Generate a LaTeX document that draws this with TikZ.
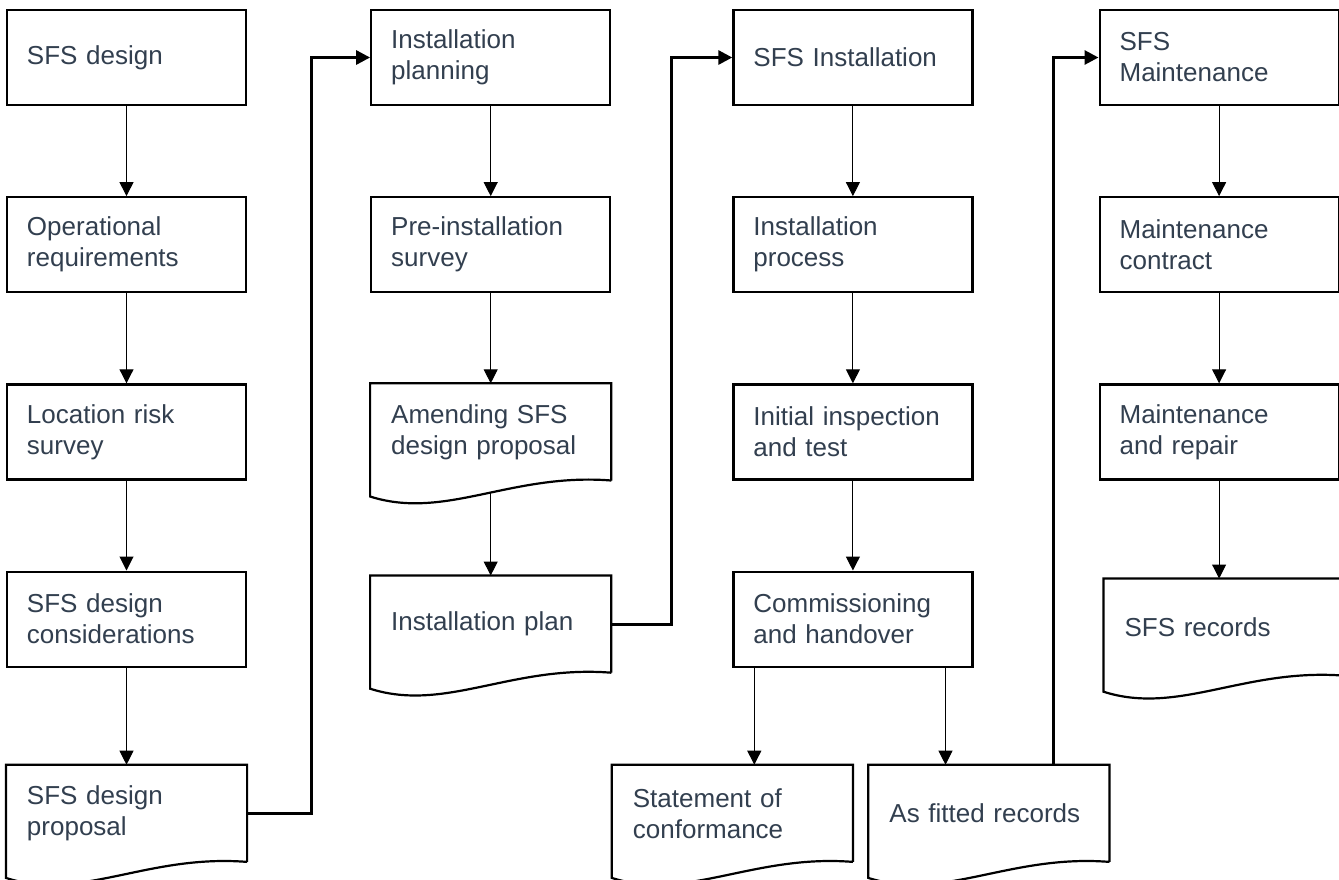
\documentclass[tikz,border=0pt]{standalone}
\usepackage{fontspec}
\setmainfont{Liberation Sans}
\usepackage{xcolor}
\usepackage{tikz}
\usetikzlibrary{arrows.meta,positioning}

\definecolor{txt}{HTML}{323F4F}

% wavy outline of a document node
\newcommand{\docline}[1]{%
 \draw[line width=2.2pt,line join=miter] (#1.south east) -- (#1.north east) -- (#1.north west)
 -- ([yshift=-16pt]#1.south west) .. controls +(75,24) and +(-100,-8) .. (#1.south east);}

\begin{document}
\begin{tikzpicture}[x=1pt,y=-1pt,>={Triangle[length=14pt,width=14pt]},node distance=90pt and 123pt,
 stage/.style={draw,line width=2.2pt,fill=white,minimum width=239pt,minimum height=95pt,
 text width=199pt,inner xsep=20pt,align=left,text=txt,font=\fontsize{26}{31}\selectfont},
 doc/.style={stage,draw=none},
 flow/.style={->,line width=1pt},
 link/.style={->,line width=3pt}]
 \useasboundingbox (0,0) rectangle (1339,879);

 \node[stage] (sd) at (126.5,57.5) {SFS design};
 \node[stage,below=of sd] (opr) {Operational\\requirements};
 \node[stage,below=of opr] (lrs) {Location risk\\survey};
 \node[stage,below=of lrs] (dc) {SFS design\\considerations};
 \node[doc,below=97pt of dc] (dp) {SFS design\\proposal};

 \node[stage,right=123pt of sd] (ipl) {Installation\\planning};
 \node[stage,below=of ipl] (pis) {Pre-installation\\survey};
 \node[doc,below=of pis] (amd) {Amending SFS\\design proposal};
 \node[doc,below=95pt of amd] (iplan) {Installation plan};

 \node[stage,right=121pt of ipl] (sfi) {SFS Installation};
 \node[stage,below=of sfi] (ipr) {Installation\\process};
 \node[stage,below=of ipr] (iit) {Initial inspection\\and test};
 \node[stage,below=of iit] (com) {Commissioning\\and handover};
 \node[doc,below=97pt of com,xshift=-120.5pt] (soc) {Statement of\\conformance};
 \node[doc,below=97pt of com,xshift=136pt] (afr) {As fitted records};

 \node[stage,right=125pt of sfi] (sfm) {SFS\\Maintenance};
 \node[stage,below=of sfm] (mc) {Maintenance\\contract};
 \node[stage,below=of mc] (mr) {Maintenance\\and repair};
 \node[doc,below=98pt of mr,xshift=5pt] (sr) {SFS records};

 \docline{dp}
 \docline{amd}
 \docline{iplan}
 \docline{soc}
 \docline{afr}
 \docline{sr}

 \coordinate (amdw) at ([yshift=-12pt]amd.south);
 \coordinate (c1) at ([xshift=22pt]com.south west);
 \coordinate (c2) at ([xshift=-28pt]com.south east);
 \coordinate (c3) at ([xshift=-56pt]afr.north east);

 \path[every edge/.style={draw,flow}]
 (sd) edge (opr)
 (opr) edge (lrs)
 (lrs) edge (dc)
 (dc) edge (dp)
 (ipl) edge (pis)
 (pis) edge (amd)
 (amdw) edge (iplan)
 (sfi) edge (ipr)
 (ipr) edge (iit)
 (iit) edge (com)
 (c1) edge (c1 |- soc.north)
 (c2) edge (c2 |- afr.north)
 (sfm) edge (mc)
 (mc) edge (mr)
 (mr) edge (mr |- sr.north);

 \draw[link] (dp.east) -- ++(64,0) |- (ipl.west);
 \draw[link] (iplan.east) -- ++(60,0) |- (sfi.west);
 \draw[link] (c3) |- (sfm.west);
\end{tikzpicture}
\end{document}
